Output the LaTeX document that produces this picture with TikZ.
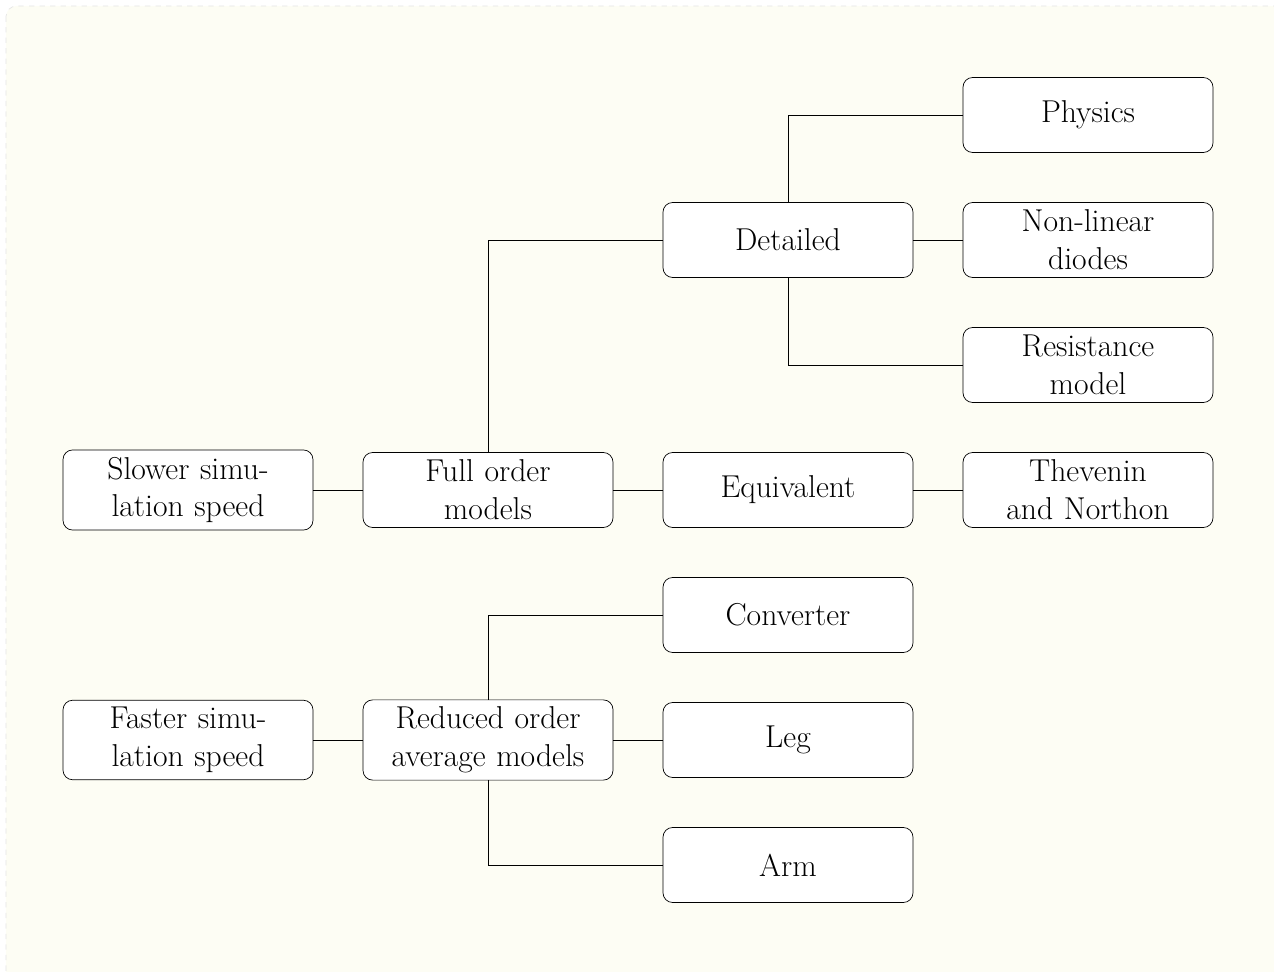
\documentclass[tikz,border=0pt]{standalone}
\usepackage{tikz}
\usetikzlibrary{positioning}
\definecolor{paper}{HTML}{FDFDF4}
\tikzset{
  treenode/.style = {align=center, inner sep=4pt, text centered,
    font=\fontsize{18}{21.5}\selectfont},
  mnode/.style = {treenode, rectangle, rounded corners=5.5pt, draw=black, fill=white, text width=4.6cm, minimum width=5cm, minimum height=1.5cm},% boite d'un modele
}
\begin{document}
\begin{tikzpicture}[node distance=2.5cm and 6cm, on grid]
\useasboundingbox (0,0) rectangle (25.48,-19.44);
\draw[gray!20, dashed, fill=paper, rounded corners=6pt] (0.12,-0.12) rectangle (26,-20);
% full order branch
\node [mnode] (slow) at (3.76,-9.8) {Slower simu-\\lation speed};
\node [mnode, right=of slow] (full) {Full order\\models};
\node [mnode, right=of full] (equiv) {Equivalent};
\node [mnode, right=of equiv] (theve) {Thevenin\\and Northon};
\node [mnode, above=5cm of equiv] (detail) {Detailed};
\node [mnode, right=of detail] (nonlin) {Non-linear\\diodes};
\node [mnode, above=of nonlin] (phys) {Physics};
\node [mnode, below=of nonlin] (resist) {Resistance\\model};
% reduced order branch
\node [mnode, below=5cm of slow] (fast) {Faster simu-\\lation speed};
\node [mnode, right=of fast] (reduced) {Reduced order\\average models};
\node [mnode, right=of reduced] (leg) {Leg};
\node [mnode, above=of leg] (conv) {Converter};
\node [mnode, below=of leg] (arm) {Arm};
\draw (slow) -- (full);
\draw (full) -- (equiv);
\draw (equiv) -- (theve);
\draw (full) |- (detail);
\draw (detail) -- (nonlin);
\draw (detail) |- (phys);
\draw (detail) |- (resist);
\draw (fast) -- (reduced);
\draw (reduced) -- (leg);
\draw (reduced) |- (conv);
\draw (reduced) |- (arm);
\end{tikzpicture}
\end{document}
